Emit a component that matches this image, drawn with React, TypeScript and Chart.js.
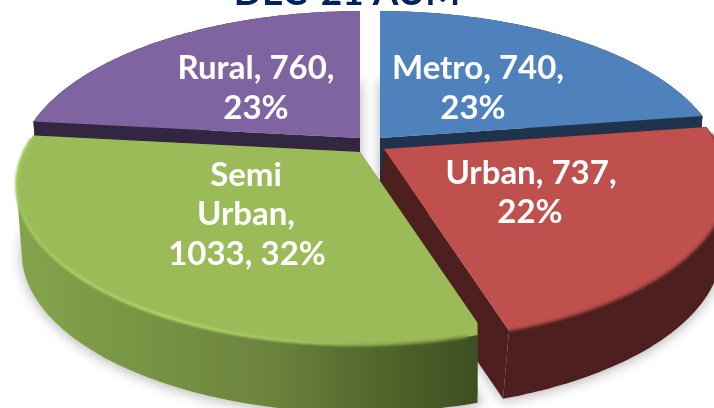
import React, { useEffect, useRef } from "react";
import { Chart, registerables } from "chart.js";

Chart.register(...registerables);

const categories = ["Metro", "Urban", "Semi Urban", "Rural"];
const values = [740, 737, 1033, 760];
const percents = [23, 22, 32, 23];
const titleText = "DEC-21 AUM";

const topColors = ["#4f81bd", "#c0504d", "#9bbb59", "#8064a2"];
const cutColors = ["#1f334d", "#4d1f1f", "#4d5f2c", "#332640"];

// Look of the tilted pie
const FONT = "Lato, 'Open Sans', sans-serif";
const RX = 336, RY = 153, PERSP = 0.206, DEPTH = 68;
const lowScale = [0.985, 1, 0.985, 0.985];
const lowShift = [0, -6, 0, 0];
// Exploded slice apex, relative to the chart centre (357, 204)
const explode = [[23, -66], [27, -55], [3, -52], [3, -66]];
// Text blocks, relative to the chart centre
const labelLines = [
  [[121, -136], [116, -96]],
  [[174, -31], [173, 8]],
  [[-111, -29], [-111, 10], [-110, 50]],
  [[-101, -136], [-101, -96]],
];
const drawOrder = [3, 0, 1, 2];

function textLines(i: number): string[] {
  const v = values[i];
  const p = percents[i] + "%";
  if (i === 2) return ["Semi", "Urban,", `${v}, ${p}`];
  return [`${categories[i]}, ${v},`, p];
}

type Pt = [number, number];

function hull(points: Pt[]): Pt[] {
  const pts = points.slice().sort((a, b) => a[0] - b[0] || a[1] - b[1]);
  const cross = (o: Pt, a: Pt, b: Pt) => (a[0] - o[0]) * (b[1] - o[1]) - (a[1] - o[1]) * (b[0] - o[0]);
  const lower: Pt[] = [];
  for (const p of pts) {
    while (lower.length >= 2 && cross(lower[lower.length - 2], lower[lower.length - 1], p) <= 0) lower.pop();
    lower.push(p);
  }
  const upper: Pt[] = [];
  for (const p of pts.slice().reverse()) {
    while (upper.length >= 2 && cross(upper[upper.length - 2], upper[upper.length - 1], p) <= 0) upper.pop();
    upper.push(p);
  }
  return lower.slice(0, -1).concat(upper.slice(0, -1));
}

const piePlugin = {
  id: "tiltedPie",
  beforeDatasetsDraw(chart: any) {
    const ctx: CanvasRenderingContext2D = chart.ctx;
    const arcs = chart.getDatasetMeta(0).data;

    const project = (el: any, i: number, angle: number, r: number, low: boolean): Pt => {
      const u = (r * Math.cos(angle)) / el.outerRadius;
      const v = (-r * Math.sin(angle)) / el.outerRadius;
      const d = 1 + PERSP * v;
      const s = low ? lowScale[i] : 1;
      return [
        el.x + explode[i][0] + (low ? lowShift[i] : 0) + (s * RX * u) / d,
        el.y + explode[i][1] - (RY * v) / d + (low ? DEPTH : 0),
      ];
    };
    const rim = (el: any, i: number, low: boolean): Pt[] => {
      const pts: Pt[] = [];
      const n = 90;
      for (let k = 0; k <= n; k++) {
        const a = el.startAngle + ((el.endAngle - el.startAngle) * k) / n;
        pts.push(project(el, i, a, el.outerRadius, low));
      }
      return pts;
    };
    const poly = (pts: Pt[]) => {
      ctx.beginPath();
      pts.forEach((p, k) => (k ? ctx.lineTo(p[0], p[1]) : ctx.moveTo(p[0], p[1])));
      ctx.closePath();
    };
    const line = (pts: Pt[]) => {
      ctx.beginPath();
      pts.forEach((p, k) => (k ? ctx.lineTo(p[0], p[1]) : ctx.moveTo(p[0], p[1])));
    };

    ctx.save();

    // Soft ground shadow
    ctx.save();
    ctx.shadowColor = "rgba(0,0,0,0.3)";
    ctx.shadowBlur = 13;
    ctx.shadowOffsetY = 2;
    ctx.fillStyle = "#dddddd";
    drawOrder.forEach((i) => {
      const el = arcs[i];
      const apex = project(el, i, 0, 0, true);
      poly([apex, ...rim(el, i, true)]);
      ctx.fill();
    });
    ctx.restore();

    // Title, cut by the top of the picture
    ctx.fillStyle = "#002060";
    ctx.font = `700 37px ${FONT}`;
    ctx.textAlign = "center";
    ctx.textBaseline = "alphabetic";
    ctx.fillText(titleText, 347, 5);

    const greenSide = ctx.createLinearGradient(20, 0, 477, 0);
    greenSide.addColorStop(0, "#83a44b");
    greenSide.addColorStop(0.35, "#748f42");
    greenSide.addColorStop(0.55, "#6c833e");
    greenSide.addColorStop(0.75, "#556a2e");
    greenSide.addColorStop(1, "#3e4f22");
    const sideFill: any[] = ["#1f334d", "#4d1f1f", greenSide, "#332640"];

    drawOrder.forEach((i) => {
      const el = arcs[i];
      const top = rim(el, i, false);
      const low = rim(el, i, true);
      const apexT = project(el, i, 0, 0, false);
      const apexL = project(el, i, 0, 0, true);

      ctx.save();
      if (i === 2) {
        // The corner of this slice is rounded off at its right end
        ctx.beginPath();
        ctx.rect(0, 0, 477.5, 408);
        ctx.clip();
      }

      // Cut faces
      ctx.fillStyle = cutColors[i];
      poly([apexT, top[0], low[0], apexL]);
      ctx.fill();
      poly([apexT, top[top.length - 1], low[low.length - 1], apexL]);
      ctx.fill();

      // Outer wall
      ctx.fillStyle = sideFill[i];
      poly(hull([...top, ...low]));
      ctx.fill();

      // Top face
      ctx.fillStyle = topColors[i];
      poly([apexT, ...top]);
      ctx.fill();

      // Rounded rim
      if (i === 2) {
        const g = ctx.createLinearGradient(20, 0, 477, 0);
        g.addColorStop(0, "#a3c95f");
        g.addColorStop(0.33, "#b0d86a");
        g.addColorStop(0.6, "#a3c561");
        g.addColorStop(0.8, "#8aa64e");
        g.addColorStop(1, "#6f8a40");
        ctx.filter = "blur(1.2px)";
        ctx.strokeStyle = g;
        ctx.lineWidth = 3;
        line(top.slice(2, -1));
        ctx.stroke();
        ctx.filter = "none";
      }
      if (i === 1) {
        ctx.filter = "blur(1px)";
        ctx.strokeStyle = "#8f3d3b";
        ctx.lineWidth = 2.5;
        line(top.slice(3));
        ctx.stroke();
        ctx.filter = "none";
      }
      ctx.restore();
    });

    // Data labels
    ctx.fillStyle = "#ffffff";
    ctx.font = `700 33px ${FONT}`;
    ctx.textAlign = "center";
    ctx.textBaseline = "middle";
    [0, 1, 2, 3].forEach((i) => {
      const el = arcs[i];
      textLines(i).forEach((t, k) => {
        ctx.fillText(t, el.x + labelLines[i][k][0], el.y + labelLines[i][k][1]);
      });
    });

    ctx.restore();
    return false;
  },
};

export default function App() {
  const ref = useRef<HTMLCanvasElement>(null);
  useEffect(() => {
    document.body.style.margin = "0";
    document.body.style.background = "#ffffff";
    const chart = new Chart(ref.current as HTMLCanvasElement, {
      type: "pie",
      data: {
        labels: categories,
        datasets: [{ data: values, backgroundColor: topColors, borderWidth: 0 }],
      },
      options: {
        responsive: false,
        animation: false,
        events: [],
        plugins: { legend: { display: false }, tooltip: { enabled: false }, title: { display: false } },
      },
      plugins: [piePlugin],
    } as any);
    return () => chart.destroy();
  }, []);
  return <canvas ref={ref} width={714} height={408} style={{ display: "block" }} />;
}
